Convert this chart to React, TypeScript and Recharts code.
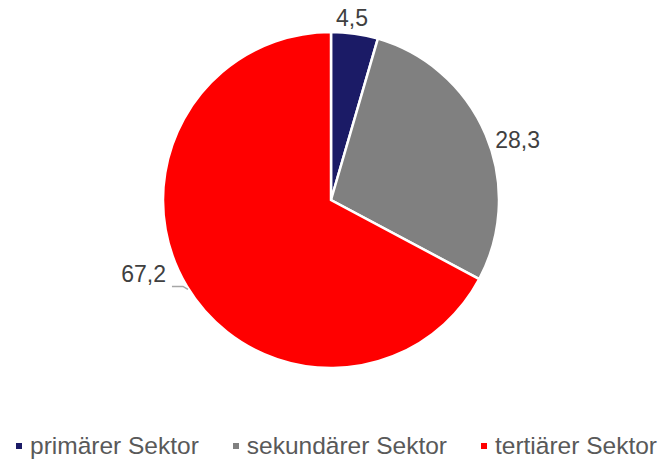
import React from 'react';
import { PieChart, Pie, Cell, Legend } from 'recharts';

const categories = ['primärer Sektor', 'sekundärer Sektor', 'tertiärer Sektor'];
const values = [4.5, 28.3, 67.2];
const colors = ['#1b1b66', '#808080', '#ff0000'];

const data = categories.map((name, i) => ({ name, value: values[i] }));

const RAD = Math.PI / 180;
const FONT = '"Liberation Sans", Arial, sans-serif';

function renderLabel(p: any) {
  const { cx, cy, midAngle, outerRadius, index, value } = p;
  const txt = Number(value).toFixed(1).replace('.', ',');
  const common = { fontFamily: FONT, fontSize: 23, fill: '#404040' } as const;
  if (index === 2) {
    const ex = cx + outerRadius * Math.cos(-midAngle * RAD);
    const ey = cy + outerRadius * Math.sin(-midAngle * RAD);
    return (
      <g>
        <polyline
          points={`${ex + 1},${ey + 3} ${ex - 4},${ey} ${ex - 15},${ey}`}
          fill="none"
          stroke="#a6a6a6"
          strokeWidth={1.5}
        />
        <text x={ex - 21} y={ey - 12} textAnchor="end" dominantBaseline="central" {...common}>
          {txt}
        </text>
      </g>
    );
  }
  const off = index === 0 ? 15 : 28;
  const nudge = index === 0 ? 1.5 : -5;
  const a = (midAngle + nudge) * RAD;
  const r = outerRadius + off;
  const x = cx + r * Math.cos(-a);
  const y = cy + r * Math.sin(-a);
  return (
    <text x={x} y={y} textAnchor="middle" dominantBaseline="central" {...common}>
      {txt}
    </text>
  );
}

function renderLegend() {
  return (
    <div
      style={{
        display: 'flex',
        justifyContent: 'space-between',
        alignItems: 'center',
        width: 641,
        marginLeft: 16,
        fontFamily: FONT,
        fontSize: 24.5,
        color: '#595959',
      }}
    >
      {categories.map((c, i) => (
        <div key={c} style={{ display: 'flex', alignItems: 'center' }}>
          <span
            style={{ display: 'inline-block', width: 6, height: 6, background: colors[i], marginRight: 8 }}
          />
          <span>{c}</span>
        </div>
      ))}
    </div>
  );
}

export default function App() {
  return (
    <div style={{ position: 'absolute', left: 0, top: 0, width: 664, height: 460, background: '#fff' }}>
      <PieChart width={664} height={460} margin={{ top: 0, right: 0, bottom: 0, left: 0 }}>
        <Pie
          data={data}
          dataKey="value"
          nameKey="name"
          cx={331}
          cy={200}
          outerRadius={168}
          startAngle={90}
          endAngle={-270}
          stroke="#ffffff"
          strokeWidth={2.5}
          label={renderLabel}
          labelLine={false}
          isAnimationActive={false}
        >
          {data.map((d, i) => (
            <Cell key={d.name} fill={colors[i]} />
          ))}
        </Pie>
        <Legend
          content={renderLegend}
          wrapperStyle={{ position: 'absolute', left: 0, top: 432, width: 664 }}
        />
      </PieChart>
    </div>
  );
}
